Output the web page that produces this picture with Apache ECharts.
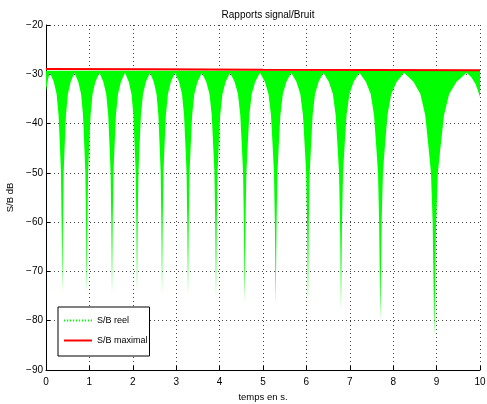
<!DOCTYPE html>
<html><head><meta charset="utf-8">
<script src="https://cdn.jsdelivr.net/npm/echarts@6/dist/echarts.min.js"></script>
<style>html,body{margin:0;padding:0;background:#fff}#c{width:487px;height:404px}</style>
</head><body><div id="c"></div>
<script>
// ---- data ----
const xTickValues = [0,1,2,3,4,5,6,7,8,9,10];
const yTickValues = [-90,-80,-70,-60,-50,-40,-30,-20];

// S/B maximal (red)
const maxT  = [0, 2.5, 5, 7.5, 10];
const maxDb = [-28.95, -29.0, -29.1, -29.15, -29.2];

// S/B reel (green): upper bound and lower envelope of the dense signal
const reelTop = -29.3;
const envT = [
  0, 0.03, 0.06, 0.09,
  0.179, 0.244, 0.290, 0.325, 0.345, 0.360, 0.376, 0.391, 0.407, 0.426, 0.460, 0.504, 0.569, 0.655,
  0.743, 0.808, 0.853, 0.887, 0.907, 0.922, 0.938, 0.954, 0.970, 0.991, 1.026, 1.072, 1.139, 1.23,
  1.320, 1.387, 1.434, 1.469, 1.489, 1.505, 1.521, 1.537, 1.554, 1.575, 1.611, 1.659, 1.727, 1.82,
  1.906, 1.970, 2.014, 2.047, 2.067, 2.082, 2.097, 2.113, 2.130, 2.151, 2.187, 2.235, 2.303, 2.396,
  2.482, 2.546, 2.590, 2.623, 2.643, 2.658, 2.673, 2.689, 2.706, 2.726, 2.762, 2.810, 2.878, 2.97,
  3.064, 3.133, 3.181, 3.218, 3.239, 3.255, 3.272, 3.289, 3.307, 3.329, 3.367, 3.418, 3.491, 3.59,
  3.691, 3.767, 3.819, 3.858, 3.881, 3.899, 3.917, 3.935, 3.953, 3.975, 4.014, 4.066, 4.140, 4.24,
  4.345, 4.423, 4.477, 4.517, 4.541, 4.559, 4.578, 4.597, 4.617, 4.641, 4.684, 4.740, 4.821, 4.93,
  5.043, 5.126, 5.184, 5.228, 5.253, 5.273, 5.293, 5.313, 5.332, 5.357, 5.400, 5.457, 5.539, 5.65,
  5.770, 5.859, 5.921, 5.967, 5.994, 6.016, 6.037, 6.056, 6.076, 6.101, 6.143, 6.199, 6.281, 6.39,
  6.516, 6.610, 6.675, 6.724, 6.752, 6.775, 6.797, 6.820, 6.844, 6.873, 6.924, 6.992, 7.089, 7.22,
  7.370, 7.481, 7.558, 7.616, 7.650, 7.676, 7.703, 7.733, 7.763, 7.801, 7.867, 7.955, 8.080, 8.25,
  8.466, 8.626, 8.738, 8.822, 8.870, 8.909, 8.947, 8.988, 9.029, 9.081, 9.170, 9.289, 9.460, 9.69,
  9.80, 9.90, 10.0
];
const envDb = [
  -33.5, -31.8, -30.5, -29.7,
  -31.5, -34, -38.3, -45.5, -50, -60, -74.2, -60, -50, -45.5, -38.3, -34, -31.5, -29.7,
  -31.5, -34, -38.3, -45.5, -50, -60, -74.5, -60, -50, -45.5, -38.3, -34, -31.5, -29.7,
  -31.5, -34, -38.3, -45.5, -50, -60, -74.6, -60, -50, -45.5, -38.3, -34, -31.5, -29.7,
  -31.5, -34, -38.3, -45.5, -50, -60, -74.3, -60, -50, -45.5, -38.3, -34, -31.5, -29.7,
  -31.5, -34, -38.3, -45.5, -50, -60, -74.8, -60, -50, -45.5, -38.3, -34, -31.5, -29.7,
  -31.5, -34, -38.3, -45.5, -50, -60, -75.0, -60, -50, -45.5, -38.3, -34, -31.5, -29.7,
  -31.5, -34, -38.3, -45.5, -50, -60, -75.5, -60, -50, -45.5, -38.3, -34, -31.5, -29.7,
  -31.5, -34, -38.3, -45.5, -50, -60, -76.3, -60, -50, -45.5, -38.3, -34, -31.5, -29.7,
  -31.5, -34, -38.3, -45.5, -50, -60, -76.7, -60, -50, -45.5, -38.3, -34, -31.5, -29.7,
  -31.5, -34, -38.3, -45.5, -50, -60, -76.7, -60, -50, -45.5, -38.3, -34, -31.5, -29.7,
  -31.5, -34, -38.3, -45.5, -50, -60, -77.9, -60, -50, -45.5, -38.3, -34, -31.5, -29.7,
  -31.5, -34, -38.3, -45.5, -50, -60, -80.0, -60, -50, -45.5, -38.3, -34, -31.5, -29.7,
  -31.5, -34, -38.3, -45.5, -50, -60, -83.1, -60, -50, -45.5, -38.3, -34, -31.5, -29.7,
  -30.6, -32.0, -34.6
];

const titleText = 'Rapports signal/Bruit';
const xName = 'temps en s.';
const yName = 'S/B dB';
const legendNames = ['S/B reel', 'S/B maximal'];

// ---- chart ----
const FONT = '"Liberation Sans", Arial, sans-serif';
const GREEN = '#00ff00', RED = '#ff0000';
let dots = '';
for (let i = 0; i < 10; i++) dots += 'M' + (i * 3) + ',0h1.2v2h-1.2z';
const dotIcon = 'path://' + dots;

const chart = echarts.init(document.getElementById('c'), null, {renderer: 'canvas'});
const gridStyle = {color: '#444', type: [1, 3], width: 1};
chart.setOption({
  animation: false,
  backgroundColor: '#fff',
  title: {
    text: titleText, left: 263, top: 5, textAlign: 'center',
    textStyle: {fontFamily: FONT, fontSize: 10, fontWeight: 'normal', color: '#000'}
  },
  grid: {left: 46, right: 7, top: 25, bottom: 34, show: false, containLabel: false, outerBoundsMode: 'none'},
  xAxis: {
    type: 'value', min: xTickValues[0], max: xTickValues[xTickValues.length - 1], interval: 1,
    axisLine: {show: true, onZero: false, lineStyle: {color: '#000', width: 1}},
    axisTick: {show: true, inside: true, length: 4, lineStyle: {color: '#000'}},
    axisLabel: {color: '#000', fontFamily: FONT, fontSize: 10, margin: 7},
    splitLine: {show: true, lineStyle: gridStyle},
    name: xName, nameLocation: 'middle', nameGap: 22,
    nameTextStyle: {color: '#000', fontFamily: FONT, fontSize: 9.5}
  },
  yAxis: {
    type: 'value', min: yTickValues[0], max: yTickValues[yTickValues.length - 1], interval: 10,
    axisLine: {show: true, onZero: false, lineStyle: {color: '#000', width: 1}},
    axisTick: {show: true, inside: true, length: 4, lineStyle: {color: '#000'}},
    axisLabel: {color: '#000', fontFamily: FONT, fontSize: 10, margin: 3,
      formatter: v => String(v).replace('-', '\u2212')},
    splitLine: {show: true, lineStyle: gridStyle},
    name: yName, nameLocation: 'middle', nameGap: 28, nameRotate: 90,
    nameTextStyle: {color: '#000', fontFamily: FONT, fontSize: 9.5}
  },
  legend: {
    left: 58, top: 307, orient: 'vertical',
    padding: [7, 2, 9, 6], itemGap: 7, itemWidth: 28, itemHeight: 2,
    backgroundColor: '#fff', borderColor: '#000', borderWidth: 1, borderRadius: 0,
    selectedMode: false,
    textStyle: {fontFamily: FONT, fontSize: 9, color: '#000', lineHeight: 13},
    data: [
      {name: legendNames[0], icon: dotIcon, itemStyle: {color: GREEN}},
      {name: legendNames[1], icon: 'path://M0,0h28v2h-28z', itemStyle: {color: RED}}
    ]
  },
  series: [
    {
      name: legendNames[0], type: 'custom',
      data: envT.map((t, i) => [t, envDb[i]]),
      encode: {x: 0, y: 1},
      color: GREEN, itemStyle: {color: GREEN},
      silent: true, z: 2, clip: true,
      renderItem: function (params, api) {
        if (params.dataIndex !== 0) return null;
        const pts = [];
        for (let i = 0; i < envT.length; i++) pts.push(api.coord([envT[i], reelTop]));
        for (let i = envT.length - 1; i >= 0; i--) pts.push(api.coord([envT[i], envDb[i]]));
        return {type: 'polygon', shape: {points: pts}, style: {fill: GREEN, stroke: null}};
      }
    },
    {
      name: legendNames[1], type: 'line',
      data: maxT.map((t, i) => [t, maxDb[i]]),
      symbol: 'none', color: RED,
      lineStyle: {width: 2, color: RED},
      silent: true, z: 3
    }
  ]
});
</script>
</body></html>
